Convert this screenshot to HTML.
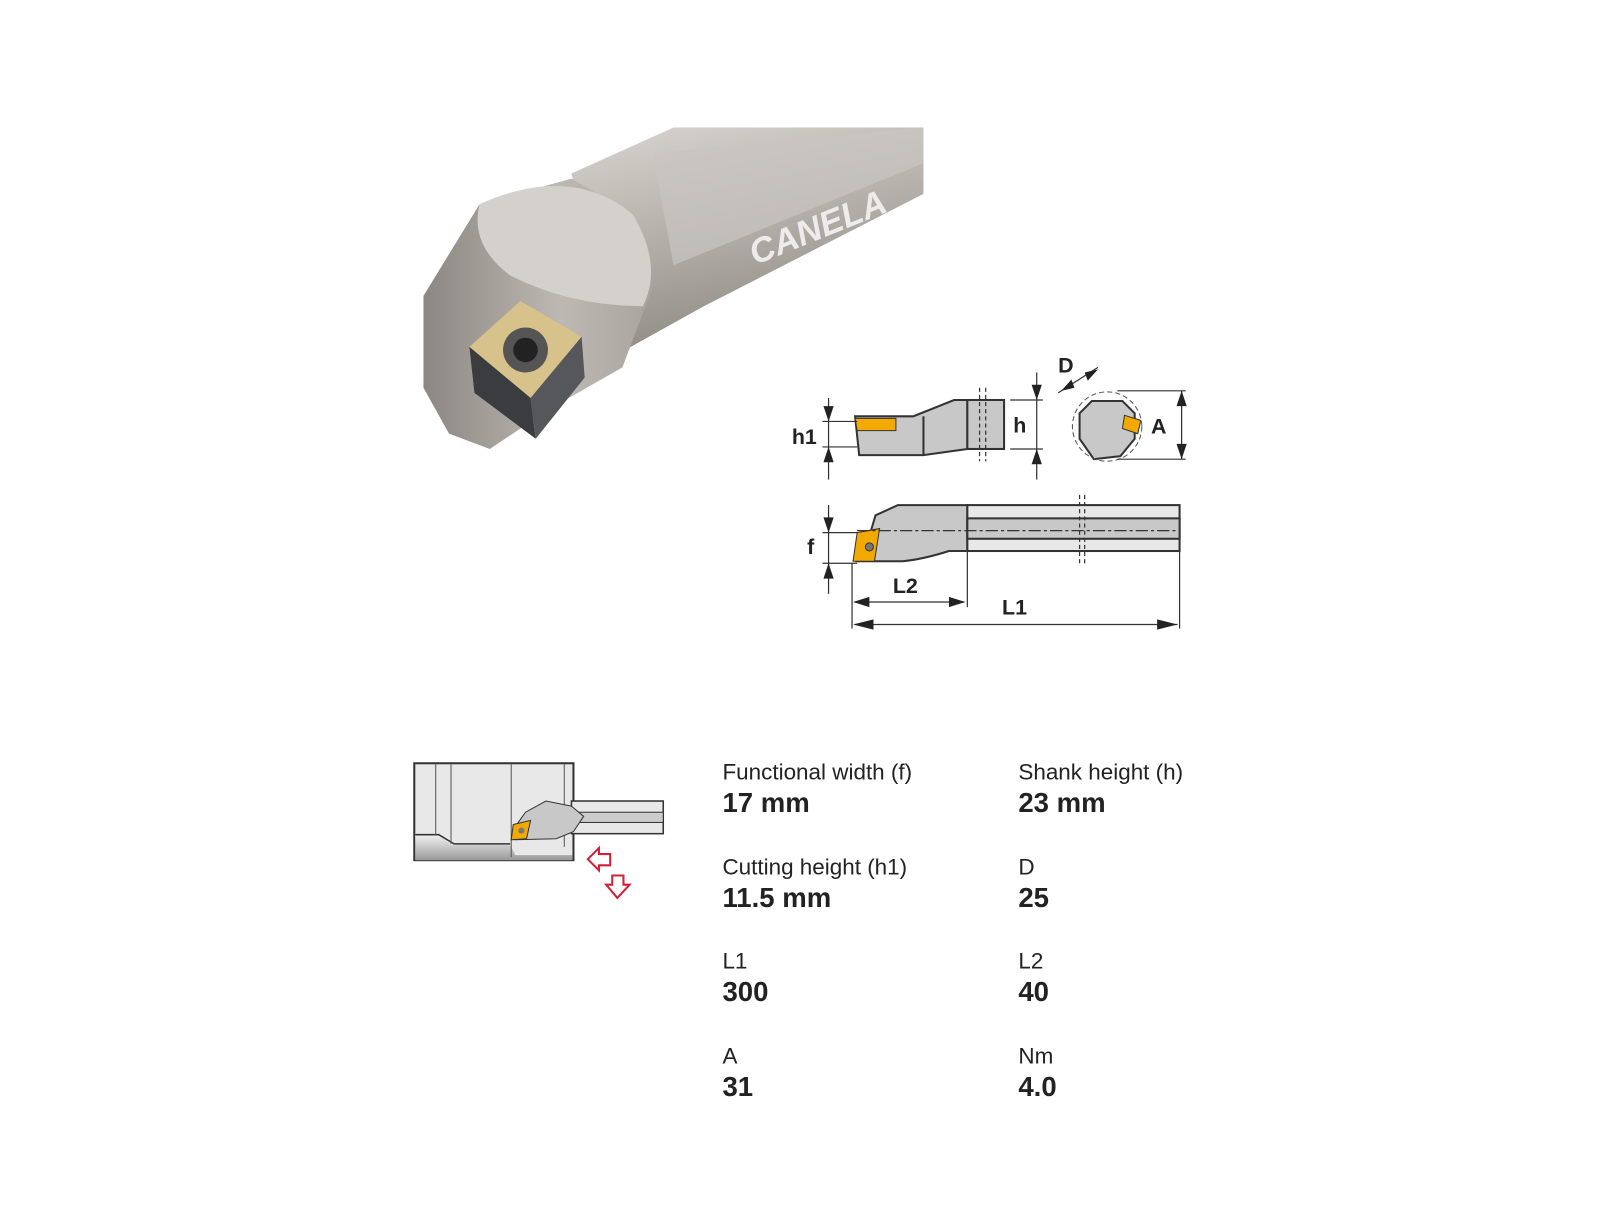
<!DOCTYPE html>
<html><head><meta charset="utf-8"><style>
body{margin:0;background:#fff;width:1600px;height:1200px;overflow:hidden;font-family:"Liberation Sans",sans-serif}
#w{position:absolute;left:0;top:0;width:1600px;height:1200px;transform:scale(1.0204);transform-origin:0 0}
.l{position:absolute;font-size:22px;color:#222;transform:scaleX(1.0);transform-origin:left}
.v{position:absolute;font-size:27px;font-weight:bold;color:#222}
</style></head><body><div id="w">
<svg width="1600" height="1200" style="position:absolute;left:0;top:0">
<defs>
<linearGradient id="g1" x1="0" y1="0" x2="0.3" y2="1"><stop offset="0" stop-color="#d8d4cf"/><stop offset=".5" stop-color="#b5b0aa"/><stop offset="1" stop-color="#8f8a84"/></linearGradient>
<linearGradient id="g2" x1="0" y1="0" x2="1" y2="0"><stop offset="0" stop-color="#8c8782"/><stop offset=".6" stop-color="#bdb8b2"/><stop offset="1" stop-color="#a9a49e"/></linearGradient>
<linearGradient id="g3" x1="0" y1="0" x2="0" y2="1"><stop offset="0" stop-color="#f2f2f2"/><stop offset="1" stop-color="#999"/></linearGradient>
</defs>
<polygon points="560,170 660,125 905,125 905,190 690,300 600,350" fill="url(#g1)"/>
<polygon points="640,150 905,125 905,160 660,260" fill="#c9c5c0" opacity=".7"/>
<text x="740" y="260" font-size="34" font-weight="bold" font-style="italic" fill="#eeeceb" transform="rotate(-22 740 260)" font-family="Liberation Sans">CANELA</text>
<polygon points="415,290 470,200 560,175 620,210 640,280 610,360 540,400 480,440 440,425 415,380" fill="url(#g2)"/>
<path d="M470,200 Q560,160 620,210 Q650,260 630,300 Q560,300 500,270 Q460,240 470,200Z" fill="#d4d0cb"/>
<polygon points="460,340 510,295 570,330 520,390" fill="#d6c28a"/>
<polygon points="460,340 520,390 525,430 465,385" fill="#3a3c40"/>
<polygon points="520,390 570,330 573,370 525,430" fill="#55575b"/>
<circle cx="515" cy="343" r="22" fill="#555"/><circle cx="515" cy="343" r="12" fill="#222"/>
<g stroke="#333" stroke-width="2" fill="#c8c8c8">
<polygon points="838,408 895,408 935,392 948,392 948,440 905,446 842,446"/>
<rect x="948" y="392" width="36" height="48"/>
<line x1="905" y1="408" x2="905" y2="446"/>
<path d="M1070,393 L1100,393 L1112,405 L1112,430 L1098,447 L1072,450 L1058,430 L1058,405Z"/>
<path d="M850,532 L858,505 L880,495 L930,495 L948,495 L948,540 L930,540 Q905,548 885,550 L840,550Z"/>
<rect x="948" y="495" width="208" height="45" fill="#e8e8e8"/>
<rect x="948" y="508" width="208" height="20" fill="#c8c8c8"/>
</g>
<polygon points="838,410 878,410 878,422 840,422" fill="#f2a900" stroke="#333"/>
<polygon points="1102,407 1118,412 1115,425 1100,420" fill="#f2a900" stroke="#333"/>
<polygon points="840,522 862,518 857,550 836,550" fill="#f2a900" stroke="#333"/>
<circle cx="852" cy="536" r="4" fill="#777" stroke="#333"/>
<circle cx="1085" cy="418" r="34" fill="none" stroke="#555" stroke-dasharray="5,3"/>
<g stroke="#333" stroke-width="1.2" fill="none">
<line x1="812" y1="390" x2="812" y2="470"/><line x1="806" y1="413" x2="840" y2="413"/><line x1="806" y1="438" x2="840" y2="438"/>
<line x1="1016" y1="365" x2="1016" y2="470"/><line x1="990" y1="392" x2="1022" y2="392"/><line x1="990" y1="440" x2="1022" y2="440"/>
<line x1="1158" y1="383" x2="1158" y2="450"/><line x1="1095" y1="383" x2="1162" y2="383"/><line x1="1095" y1="450" x2="1162" y2="450"/>
<line x1="1037" y1="385" x2="1076" y2="360"/>
<line x1="812" y1="495" x2="812" y2="582"/><line x1="806" y1="522" x2="840" y2="522"/><line x1="806" y1="552" x2="840" y2="552"/>
<line x1="835" y1="552" x2="835" y2="616"/><line x1="948" y1="540" x2="948" y2="595"/><line x1="1156" y1="540" x2="1156" y2="616"/>
<line x1="838" y1="590" x2="945" y2="590"/><line x1="838" y1="612" x2="1154" y2="612"/>
<line x1="840" y1="520" x2="1156" y2="520" stroke-dasharray="12,3,3,3"/>
<line x1="960" y1="380" x2="960" y2="452" stroke-dasharray="4,3"/><line x1="966" y1="380" x2="966" y2="452" stroke-dasharray="4,3"/>
<line x1="1058" y1="485" x2="1058" y2="555" stroke-dasharray="4,3"/><line x1="1063" y1="485" x2="1063" y2="555" stroke-dasharray="4,3"/>
</g>
<g fill="#222">
<polygon points="807,398 817,398 812,413"/><polygon points="807,453 817,453 812,438"/>
<polygon points="1011,377 1021,377 1016,392"/><polygon points="1011,455 1021,455 1016,440"/>
<polygon points="1153,398 1163,398 1158,383"/><polygon points="1153,435 1163,435 1158,450"/>
<polygon points="807,507 817,507 812,522"/><polygon points="807,567 817,567 812,552"/>
<polygon points="836,590 852,585 852,595"/><polygon points="946,590 930,585 930,595"/>
<polygon points="836,612 856,607 856,617"/><polygon points="1154,612 1134,607 1134,617"/>
<polygon points="1040,383 1050,372 1053,380"/><polygon points="1076,362 1066,373 1063,365"/>
</g>
<g font-family="Liberation Sans" font-weight="bold" font-size="21" fill="#222">
<text x="776" y="435">h1</text><text x="993" y="424">h</text><text x="1037" y="365">D</text><text x="1128" y="425">A</text>
<text x="791" y="543">f</text><text x="875" y="581">L2</text><text x="982" y="602">L1</text>
</g>
<rect x="406" y="748" width="156" height="95" fill="#e8e8e8" stroke="#333" stroke-width="2"/>
<path d="M407,818 L430,818 L442,828 L500,828 L505,838 L561,838 L561,843 L407,843Z" fill="url(#g3)"/>
<path d="M407,818 L430,818 L445,827 L500,827" fill="none" stroke="#333" stroke-width="1.5"/>
<line x1="427" y1="749" x2="427" y2="818" stroke="#555"/><line x1="442" y1="749" x2="442" y2="827" stroke="#555"/><line x1="501" y1="749" x2="501" y2="840" stroke="#555"/><line x1="553" y1="749" x2="553" y2="830" stroke="#555"/>
<rect x="560" y="785" width="90" height="32" fill="#e8e8e8" stroke="#333" stroke-width="1.5"/>
<rect x="560" y="796" width="90" height="10" fill="#ccc" stroke="#333"/>
<path d="M505,810 L515,796 L535,785 L560,790 L572,800 L562,815 L545,822 L505,823Z" fill="#c8c8c8" stroke="#333"/>
<polygon points="503,808 520,804 516,822 501,823" fill="#f2a900" stroke="#333"/>
<circle cx="511" cy="814" r="3" fill="#777"/>
<path d="M576,842 L587,831 L587,837 L598,837 L598,848 L587,848 L587,853Z" fill="none" stroke="#d0203a" stroke-width="2"/>
<path d="M600,858 L611,858 L611,867 L617,867 L605,880 L594,867 L600,867Z" fill="none" stroke="#d0203a" stroke-width="2"/>
</svg>
<div class="l" style="left:708px;top:744px">Functional width (f)</div><div class="v" style="left:708px;top:772px">17 mm</div>
<div class="l" style="left:998px;top:744px">Shank height (h)</div><div class="v" style="left:998px;top:772px">23 mm</div>
<div class="l" style="left:708px;top:837px">Cutting height (h1)</div><div class="v" style="left:708px;top:865px">11.5 mm</div>
<div class="l" style="left:998px;top:837px">D</div><div class="v" style="left:998px;top:865px">25</div>
<div class="l" style="left:708px;top:929px">L1</div><div class="v" style="left:708px;top:957px">300</div>
<div class="l" style="left:998px;top:929px">L2</div><div class="v" style="left:998px;top:957px">40</div>
<div class="l" style="left:708px;top:1022px">A</div><div class="v" style="left:708px;top:1050px">31</div>
<div class="l" style="left:998px;top:1022px">Nm</div><div class="v" style="left:998px;top:1050px">4.0</div>
</div></body></html>
